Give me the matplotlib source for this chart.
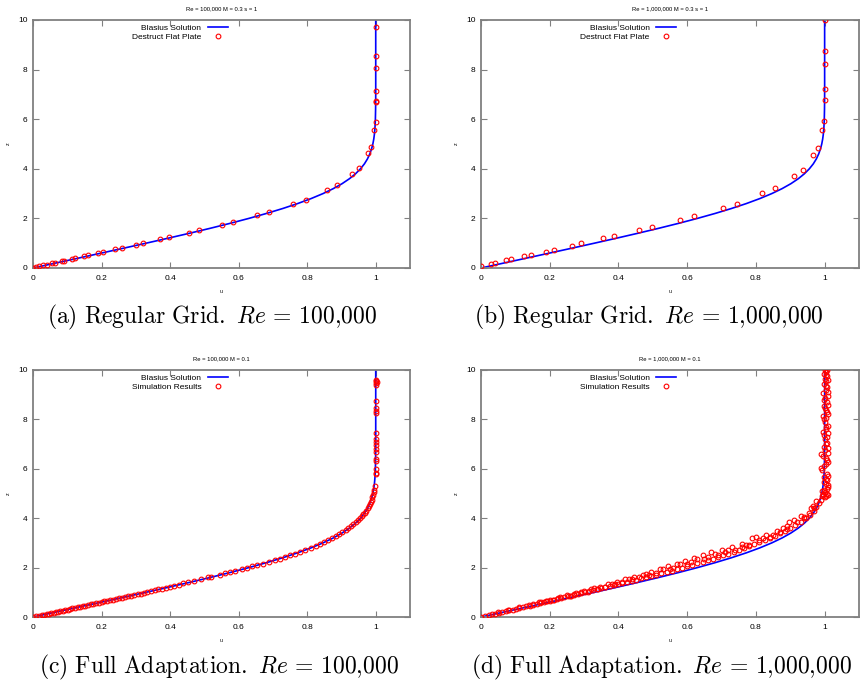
import numpy as np
import matplotlib
matplotlib.use("Agg")
import matplotlib.pyplot as plt

plt.rcParams['font.family'] = ['Liberation Sans', 'DejaVu Sans']
plt.rcParams['mathtext.fontset'] = 'cm'

# Blasius profile (u, z)
blasius_z = [0.0, 0.2, 0.4, 0.6, 0.8, 1.0, 1.2, 1.4, 1.6, 1.8, 2.0, 2.2, 2.4, 2.6, 2.8,
             3.0, 3.2, 3.4, 3.6, 3.8, 4.0, 4.2, 4.4, 4.6, 4.8, 5.0, 5.2, 5.4, 5.6, 5.8,
             6.0, 6.4, 6.8, 7.2, 7.6, 8.0, 10.0]
blasius_u = [0.0, 0.0664, 0.1328, 0.1989, 0.2647, 0.3298, 0.3938, 0.4563, 0.5168, 0.5748,
             0.6298, 0.6813, 0.7290, 0.7725, 0.8115, 0.8461, 0.8761, 0.9018, 0.9233, 0.9411,
             0.9555, 0.9670, 0.9759, 0.9827, 0.9878, 0.9916, 0.9943, 0.9962, 0.9975, 0.9984,
             0.9990, 0.9996, 0.9999, 1.0, 1.0, 1.0, 1.0]

# (a) regular grid, Re = 100,000
a_u = [1.001, 1.001, 1.001, 1.001, 1.001, 1.001, 1.0, 0.996, 0.986, 0.976, 0.951, 0.931,
       0.888, 0.858, 0.797, 0.760, 0.690, 0.653, 0.583, 0.550, 0.484, 0.454, 0.397, 0.372,
       0.322, 0.301, 0.259, 0.240, 0.205, 0.190, 0.160, 0.149, 0.124, 0.113, 0.091, 0.084,
       0.063, 0.055, 0.040, 0.030, 0.018, 0.009, 0.0]
a_z = [9.72, 8.55, 8.07, 7.12, 6.72, 6.70, 5.90, 5.56, 4.89, 4.62, 4.05, 3.81,
       3.35, 3.14, 2.75, 2.59, 2.27, 2.13, 1.86, 1.75, 1.54, 1.43, 1.24, 1.16,
       1.00, 0.94, 0.81, 0.76, 0.65, 0.59, 0.51, 0.49, 0.40, 0.38, 0.30, 0.27,
       0.22, 0.19, 0.13, 0.11, 0.08, 0.05, 0.01]

# (b) regular grid, Re = 1,000,000
b_u = [1.001, 1.001, 1.001, 1.001, 1.001, 0.999, 0.993, 0.981, 0.967, 0.936, 0.911,
       0.856, 0.819, 0.746, 0.703, 0.621, 0.578, 0.498, 0.461, 0.388, 0.355, 0.292,
       0.265, 0.211, 0.189, 0.145, 0.126, 0.088, 0.072, 0.041, 0.028, 0.001]
b_z = [10.0, 8.74, 8.23, 7.22, 6.77, 5.92, 5.57, 4.85, 4.55, 3.96, 3.72,
       3.22, 3.01, 2.59, 2.42, 2.08, 1.93, 1.65, 1.53, 1.28, 1.19, 0.99,
       0.89, 0.73, 0.66, 0.53, 0.47, 0.35, 0.31, 0.22, 0.18, 0.09]

# (c) full adaptation, Re = 100,000
c_u = [0.000, 0.010, 0.018, 0.025, 0.032, 0.040, 0.046, 0.053, 0.060, 0.066, 0.073, 0.080,
       0.087, 0.094, 0.101, 0.108, 0.115, 0.122, 0.130, 0.137, 0.145, 0.152, 0.160, 0.168,
       0.176, 0.184, 0.192, 0.200, 0.208, 0.216, 0.225, 0.233, 0.242, 0.250, 0.259, 0.268,
       0.277, 0.286, 0.295, 0.305, 0.314, 0.324, 0.334, 0.344, 0.355, 0.365, 0.376, 0.388,
       0.400, 0.412, 0.425, 0.438, 0.452, 0.470, 0.490, 0.510, 0.520, 0.545, 0.560, 0.575,
       0.590, 0.610, 0.625, 0.640, 0.655, 0.670, 0.690, 0.705, 0.720, 0.735, 0.750, 0.765,
       0.780, 0.795, 0.810, 0.825, 0.838, 0.850, 0.862, 0.873, 0.884, 0.894, 0.903, 0.912,
       0.920, 0.928, 0.935, 0.942, 0.948, 0.954, 0.959, 0.964, 0.968, 0.972, 0.976, 0.979,
       0.982, 0.985, 0.988, 0.990, 0.992, 0.994, 0.996, 0.998, 1.000, 1.002, 1.001, 1.001,
       1.002, 1.001, 1.002, 1.001, 1.002, 1.001, 1.002, 1.001, 1.002, 1.001, 1.002, 1.001,
       1.002, 1.003, 1.002, 1.001]
c_z = [0.00, 0.03, 0.06, 0.08, 0.10, 0.12, 0.14, 0.16, 0.18, 0.20, 0.22, 0.24,
       0.26, 0.28, 0.30, 0.33, 0.35, 0.37, 0.39, 0.41, 0.44, 0.46, 0.48, 0.51,
       0.53, 0.55, 0.58, 0.60, 0.63, 0.65, 0.68, 0.70, 0.73, 0.76, 0.78, 0.81,
       0.84, 0.87, 0.89, 0.92, 0.95, 0.98, 1.02, 1.05, 1.08, 1.12, 1.15, 1.19,
       1.23, 1.27, 1.31, 1.36, 1.41, 1.47, 1.53, 1.60, 1.63, 1.72, 1.77, 1.82,
       1.87, 1.94, 1.99, 2.05, 2.10, 2.15, 2.23, 2.30, 2.36, 2.43, 2.50, 2.57,
       2.64, 2.71, 2.80, 2.88, 2.95, 3.03, 3.11, 3.19, 3.27, 3.35, 3.43, 3.51,
       3.59, 3.67, 3.75, 3.83, 3.91, 3.99, 4.07, 4.15, 4.23, 4.31, 4.40, 4.48,
       4.57, 4.66, 4.75, 4.84, 4.94, 5.05, 5.15, 5.30, 5.80, 5.85, 6.00, 6.30,
       6.40, 6.70, 6.80, 6.95, 7.10, 7.20, 7.45, 8.25, 8.35, 8.45, 8.75, 9.40,
       9.48, 9.52, 9.55, 9.58]

# (d) full adaptation, Re = 1,000,000
d_u = [0.000, 0.012, 0.022, 0.032, 0.042, 0.052, 0.062, 0.072, 0.082, 0.092, 0.102, 0.112,
       0.122, 0.132, 0.142, 0.152, 0.162, 0.172, 0.182, 0.192, 0.202, 0.212, 0.222, 0.232,
       0.242, 0.252, 0.262, 0.272, 0.282, 0.292, 0.302, 0.314, 0.326, 0.338, 0.350, 0.362,
       0.374, 0.386, 0.398, 0.410, 0.424, 0.438, 0.452, 0.466, 0.480, 0.495, 0.510, 0.525,
       0.540, 0.555, 0.570, 0.585, 0.600, 0.615, 0.630, 0.645, 0.660, 0.675, 0.690, 0.705,
       0.720, 0.735, 0.750, 0.765, 0.780, 0.795, 0.810, 0.825, 0.840, 0.855, 0.870, 0.885,
       0.900, 0.915, 0.930, 0.945, 0.958, 0.968, 0.976, 0.983, 0.988, 0.992, 0.996,
       0.150, 0.175, 0.200, 0.225, 0.250, 0.275, 0.300, 0.320, 0.345, 0.370, 0.395, 0.420,
       0.445, 0.470, 0.495, 0.520, 0.545, 0.570, 0.595, 0.620, 0.645, 0.670, 0.700, 0.730,
       0.760, 0.790, 0.800, 0.830, 0.860, 0.880, 0.895, 0.910, 0.930, 0.955, 0.965, 0.975,
       0.210, 0.260, 0.310, 0.360, 0.410, 0.460, 0.510, 0.560, 0.610, 0.660, 0.710, 0.760,
       0.810, 0.850, 0.890, 0.940, 0.960,
       0.050, 0.080, 0.110, 0.140, 0.170, 0.190, 0.230, 0.270, 0.290, 0.330, 0.340, 0.380,
       0.390, 0.430, 0.440, 0.480, 0.490, 0.530, 0.550, 0.580, 0.600, 0.630, 0.650, 0.680,
       0.690, 0.720, 0.740, 0.770, 0.780, 0.820, 0.840, 0.870, 0.890, 0.920, 0.940, 0.970]
d_z = [0.00, 0.05, 0.08, 0.11, 0.14, 0.17, 0.20, 0.24, 0.27, 0.30, 0.33, 0.37,
       0.40, 0.43, 0.46, 0.50, 0.53, 0.56, 0.60, 0.63, 0.66, 0.70, 0.73, 0.76,
       0.80, 0.83, 0.87, 0.90, 0.93, 0.97, 1.00, 1.04, 1.08, 1.12, 1.16, 1.20,
       1.24, 1.28, 1.32, 1.36, 1.41, 1.46, 1.51, 1.56, 1.61, 1.66, 1.72, 1.77,
       1.83, 1.88, 1.94, 2.00, 2.06, 2.12, 2.18, 2.24, 2.30, 2.36, 2.43, 2.50,
       2.57, 2.64, 2.71, 2.79, 2.87, 2.95, 3.03, 3.12, 3.20, 3.29, 3.39, 3.49,
       3.60, 3.72, 3.85, 3.99, 4.14, 4.29, 4.45, 4.60, 4.75, 4.90, 5.00,
       0.54, 0.62, 0.70, 0.78, 0.88, 0.96, 1.06, 1.13, 1.22, 1.32, 1.42, 1.52,
       1.62, 1.72, 1.83, 1.94, 2.05, 2.16, 2.28, 2.40, 2.52, 2.62, 2.73, 2.85,
       2.97, 3.20, 3.25, 3.30, 3.48, 3.62, 3.86, 3.92, 4.10, 4.20, 4.50, 4.70,
       0.68, 0.85, 1.03, 1.22, 1.41, 1.60, 1.80, 2.00, 2.22, 2.44, 2.62, 2.84,
       3.10, 3.32, 3.70, 4.05, 4.40,
       0.19, 0.29, 0.39, 0.50, 0.60, 0.66, 0.80, 0.95, 1.01, 1.16, 1.15, 1.35,
       1.33, 1.52, 1.53, 1.74, 1.70, 1.95, 1.95, 2.16, 2.13, 2.36, 2.33, 2.55,
       2.50, 2.70, 2.70, 2.92, 2.90, 3.18, 3.22, 3.45, 3.55, 3.85, 4.00, 4.40]
# (d) points stacked near u = 1
d_top_u = [1.000, 1.005, 0.995, 1.008, 1.002, 0.998, 1.010, 1.004, 1.008, 0.999, 1.006, 0.992,
           0.988, 1.003, 1.007, 0.995, 1.009, 1.002, 0.997, 1.006, 1.001, 1.008, 0.996, 1.004,
           1.009, 1.000, 1.005, 0.994, 1.007, 1.002, 0.998, 1.006, 1.001, 1.009, 0.995, 1.004,
           1.007, 0.999, 1.005, 1.002, 1.008, 0.997, 1.003, 1.006, 1.000,
           1.010, 0.993, 1.006, 1.011, 0.997, 1.003, 1.010, 0.999, 1.009, 1.004, 0.990, 1.010,
           1.003, 0.999, 1.010, 1.004, 0.998, 1.010, 1.004, 1.009, 0.999, 1.010, 1.003, 1.010,
           1.004]
d_top_z = [4.85, 4.90, 4.95, 5.00, 5.05, 5.15, 5.25, 5.40, 5.55, 5.65, 5.80, 5.95,
           6.05, 6.20, 6.35, 6.50, 6.65, 6.75, 6.90, 7.05, 7.20, 7.30, 7.50, 7.60,
           7.75, 7.90, 8.05, 8.15, 8.30, 8.45, 8.55, 8.70, 8.85, 8.95, 9.05, 9.20,
           9.30, 9.45, 9.55, 9.65, 9.75, 9.85, 9.92, 9.98, 10.0,
           4.92, 5.10, 5.20, 5.35, 5.48, 5.60, 5.72, 6.10, 6.28, 6.45, 6.60, 6.85,
           7.00, 7.35, 7.45, 7.70, 8.00, 8.20, 8.40, 8.60, 8.80, 9.10, 9.35, 9.60,
           9.80]

panels = [
    ("Re = 100,000 M = 0.3 s = 1", "Destruct Flat Plate", a_u, a_z,
     r"$\mathrm{(a)\ Regular\ Grid.}\ Re\,=\,100{,}000$"),
    ("Re = 1,000,000 M = 0.3 s = 1", "Destruct Flat Plate", b_u, b_z,
     r"$\mathrm{(b)\ Regular\ Grid.}\ Re\,=\,1{,}000{,}000$"),
    ("Re = 100,000 M = 0.1", "Simulation Results", c_u, c_z,
     r"$\mathrm{(c)\ Full\ Adaptation.}\ Re\,=\,100{,}000$"),
    ("Re = 1,000,000 M = 0.1", "Simulation Results", d_u + d_top_u, d_z + d_top_z,
     r"$\mathrm{(d)\ Full\ Adaptation.}\ Re\,=\,1{,}000{,}000$"),
]

W, H = 860, 685
boxes = [(33, 20, 410, 268), (481, 20, 859, 268), (33, 370, 410, 617), (481, 370, 859, 617)]
cap_x = [212, 649, 219, 661]
cap_y = [317, 317, 667, 667]

fig = plt.figure(figsize=(8.6, 6.85), dpi=100)
gray = '#808080'

for i, (title, lab, su, sz, cap) in enumerate(panels):
    x0, y0, x1, y1 = boxes[i]
    ax = fig.add_axes([x0 / W, 1 - y1 / H, (x1 - x0) / W, (y1 - y0) / H])
    ax.plot(blasius_u, blasius_z, color='#0000ff', lw=1.2, label='Blasius Solution', zorder=2)
    ax.plot(su, sz, 'o', mfc='none', mec='#ff0000', ms=3.4, mew=0.8, label=lab, zorder=3)
    ax.set_xlim(0, 1.1)
    ax.set_ylim(0, 10)
    ax.set_xticks([0, 0.2, 0.4, 0.6, 0.8, 1])
    ax.set_xticklabels(['0', '0.2', '0.4', '0.6', '0.8', '1'])
    ax.set_yticks([0, 2, 4, 6, 8, 10])
    ax.tick_params(direction='in', length=4, width=0.8, color=gray, labelsize=6,
                   top=True, right=True)
    ax.tick_params(axis='x', pad=5)
    ax.tick_params(axis='y', pad=4)
    for s in ax.spines.values():
        s.set_color(gray)
        s.set_linewidth(1.3)
    ax.set_title(title, fontsize=4.2, pad=7)
    ax.set_xlabel('u', fontsize=3.8)
    ax.set_ylabel('z', fontsize=3.8)
    ax.xaxis.set_label_coords(0.5, -0.085)
    ax.yaxis.set_label_coords(-0.058, 0.5)
    ax.legend(loc='upper right', bbox_to_anchor=(0.53, 1.005), frameon=False, fontsize=6,
              markerfirst=False, handlelength=2.4, handletextpad=0.8, labelspacing=0.15,
              borderaxespad=0.2)
    fig.text(cap_x[i] / W, 1 - cap_y[i] / H, cap, ha='center', va='center', fontsize=17)

fig.savefig('out.png', dpi=100)
